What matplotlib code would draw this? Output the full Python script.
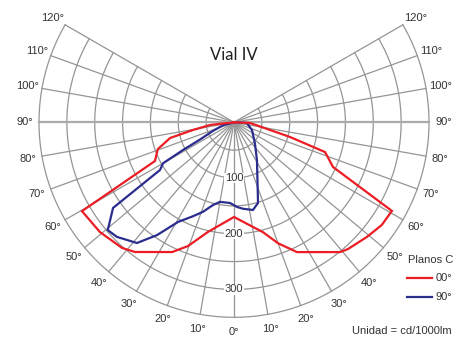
import numpy as np
import matplotlib
matplotlib.use("Agg")
import matplotlib.pyplot as plt

# photometric data, angle from nadir (deg, left negative) and cd/1000lm
red_ang = [-90, -83.6, -79.4, -76.2, -70.6, -63.9, -59.7, -50.7, -41.7, -37.4,
           -25.5, -20.4, -13.3, 0, 14.8, 20, 25.9, 39.3, 42, 49.2, 55.2, 60.7,
           65.7, 71.9, 75.3, 87.5, 90]
red_cd = [0, 43, 75, 118, 145, 158, 316, 311, 302, 293,
          258, 237, 202, 170, 204, 231, 259, 301, 306, 315, 323, 325,
          195, 172, 104, 29, 0]

blue_ang = [-90, -75, -68, -63, -61.5, -60, -57.2, -54.7, -49.5, -45.6, -38.8,
            -34.3, -29.3, -23.6, -19.1, -14.2, -10, -2.8, 2, 5.9, 12.2, 16.6,
            31.4, 45, 67, 86.9, 90]
blue_cd = [0, 20, 40, 70, 104, 147, 158, 266, 298, 294, 278,
           245, 205, 184, 170, 153, 145, 145, 152, 156, 161, 151,
           79, 53, 35, 23, 0]

rings = [50, 100, 150, 200, 250, 300, 350]
ring_labels = [100, 200, 300]
spokes = list(range(-120, 130, 10))
legend_names = ["00°", "90°"]
colors = ["#ec1c24", "#2b2d8e"]

# figure geometry (pixels)
W, H = 453, 338
cx, cy = 234, 122.3
scale = 195 / 350.0  # px per cd

fig = plt.figure(figsize=(W / 100, H / 100), dpi=100)
ax = fig.add_axes([0, 0, 1, 1])
ax.set_xlim(-cx / scale, (W - cx) / scale)
ax.set_ylim(-(H - cy) / scale, cy / scale)
ax.axis("off")


def to_xy(ang, r):
    a = np.radians(np.asarray(ang, dtype=float))
    r = np.asarray(r, dtype=float)
    return r * np.sin(a), -r * np.cos(a)


grid_col = "#959595"
t = np.linspace(-120, 120, 400)
for r in rings:
    x, y = to_xy(t, np.full_like(t, r))
    ax.plot(x, y, color=grid_col, lw=0.9, zorder=1)

for a in spokes:
    x, y = to_xy([a, a], [0, 350])
    lw = 1.6 if abs(a) == 90 else 0.9
    col = "#ababab" if abs(a) == 90 else grid_col
    ax.plot(x, y, color=col, lw=lw, zorder=1)
    lx, ly = to_xy(a, 376)
    ax.text(lx, ly, f"{abs(a)}°", ha="center", va="center", fontsize=8,
            color="#333333", family="Liberation Sans")

for v in ring_labels:
    lx, ly = to_xy(0, v)
    ax.text(lx, ly, str(v), ha="center", va="center", fontsize=8,
            color="#333333", family="Liberation Sans", zorder=2,
            bbox=dict(facecolor="white", edgecolor="none", pad=0.3))

x, y = to_xy(red_ang, red_cd)
ax.plot(x, y, color=colors[0], lw=1.6, zorder=4, solid_joinstyle="miter")
x, y = to_xy(blue_ang, blue_cd)
ax.plot(x, y, color=colors[1], lw=1.6, zorder=3, solid_joinstyle="miter")

ax.text(234 / W, 1 - 55 / H, "Vial IV", transform=ax.transAxes, ha="center",
        va="center", fontsize=12, color="#222222", family="Lato")

# legend
ax.text(431 / W, 1 - 260 / H, "Planos C", transform=ax.transAxes, ha="center",
        va="center", fontsize=8, color="#333333", family="Liberation Sans")
for i, (name, c) in enumerate(zip(legend_names, colors)):
    yy = 1 - (278 + 19 * i) / H
    ax.plot([407 / W, 432 / W], [yy, yy], color=c, lw=1.6,
            transform=ax.transAxes)
    ax.text(436 / W, yy, name, transform=ax.transAxes, ha="left", va="center",
            fontsize=8, color="#333333", family="Liberation Sans")

ax.text(452 / W, 1 - 331 / H, "Unidad = cd/1000lm", transform=ax.transAxes,
        ha="right", va="center", fontsize=8, color="#333333",
        family="Liberation Sans")

fig.savefig("out.png", dpi=100)
